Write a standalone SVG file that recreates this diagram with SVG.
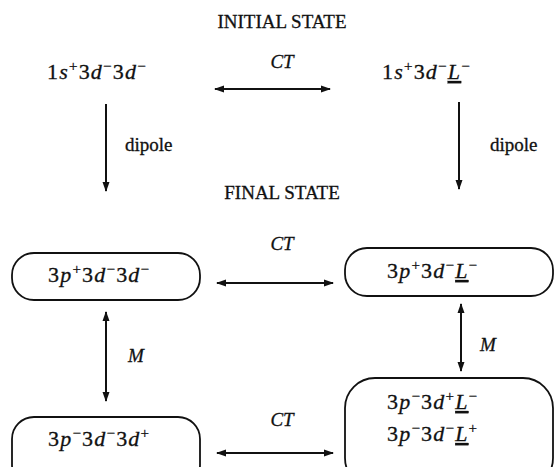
<svg xmlns="http://www.w3.org/2000/svg" width="554" height="467" viewBox="0 0 554 467">
<style>
text{font-family:"Liberation Serif","DejaVu Serif",serif;fill:#111;font-size:19px;stroke:#111;stroke-width:0.3}
.f{font-size:22px;letter-spacing:1.2px}
.i{font-style:italic}
.sup{font-size:15px}
.hd{text-anchor:middle}
.box{fill:none;stroke:#111;stroke-width:1.8}
.cn{stroke:#111;stroke-width:2;fill:none}
.u{text-decoration:underline}
</style>
<defs>
<marker id="ah" viewBox="0 0 10 8" refX="9" refY="4" markerWidth="11" markerHeight="8" orient="auto-start-reverse" markerUnits="userSpaceOnUse">
<path d="M0,0.5 L10,4 L0,7.5 z" fill="#111"/>
</marker>
</defs>
<text class="hd" x="282" y="28">INITIAL STATE</text>
<text class="hd" x="282" y="199">FINAL STATE</text>
<g id="n-init-left"><text class="f" x="47" y="79">1<tspan class="i">s</tspan><tspan class="sup" dy="-8">+</tspan><tspan dy="8">3</tspan><tspan class="i">d</tspan><tspan class="sup" dy="-8">−</tspan><tspan dy="8">3</tspan><tspan class="i">d</tspan><tspan class="sup" dy="-8">−</tspan></text></g>
<g id="n-init-right"><text class="f" x="382" y="79">1<tspan class="i">s</tspan><tspan class="sup" dy="-8">+</tspan><tspan dy="8">3</tspan><tspan class="i">d</tspan><tspan class="sup" dy="-8">−</tspan><tspan dy="8" class="i u">L</tspan><tspan class="sup" dy="-8">−</tspan></text></g>
<g id="n-final-1">
<rect class="box" x="12" y="253" width="188" height="47" rx="22" ry="22"/>
<text class="f" x="48" y="282">3<tspan class="i">p</tspan><tspan class="sup" dy="-8">+</tspan><tspan dy="8">3</tspan><tspan class="i">d</tspan><tspan class="sup" dy="-8">−</tspan><tspan dy="8">3</tspan><tspan class="i">d</tspan><tspan class="sup" dy="-8">−</tspan></text>
</g>
<g id="n-final-2">
<rect class="box" x="345" y="248" width="208" height="48" rx="22" ry="22"/>
<text class="f" x="387" y="278">3<tspan class="i">p</tspan><tspan class="sup" dy="-8">+</tspan><tspan dy="8">3</tspan><tspan class="i">d</tspan><tspan class="sup" dy="-8">−</tspan><tspan dy="8" class="i u">L</tspan><tspan class="sup" dy="-8">−</tspan></text>
</g>
<g id="n-final-3">
<rect class="box" x="12" y="417" width="188" height="70" rx="22" ry="22"/>
<text class="f" x="48" y="446">3<tspan class="i">p</tspan><tspan class="sup" dy="-8">−</tspan><tspan dy="8">3</tspan><tspan class="i">d</tspan><tspan class="sup" dy="-8">−</tspan><tspan dy="8">3</tspan><tspan class="i">d</tspan><tspan class="sup" dy="-8">+</tspan></text>
</g>
<g id="n-final-4">
<rect class="box" x="345" y="378" width="208" height="110" rx="30" ry="30"/>
<text class="f" x="387" y="409">3<tspan class="i">p</tspan><tspan class="sup" dy="-8">−</tspan><tspan dy="8">3</tspan><tspan class="i">d</tspan><tspan class="sup" dy="-8">+</tspan><tspan dy="8" class="i u">L</tspan><tspan class="sup" dy="-8">−</tspan></text>
<text class="f" x="387" y="441">3<tspan class="i">p</tspan><tspan class="sup" dy="-8">−</tspan><tspan dy="8">3</tspan><tspan class="i">d</tspan><tspan class="sup" dy="-8">−</tspan><tspan dy="8" class="i u">L</tspan><tspan class="sup" dy="-8">+</tspan></text>
</g>
<g id="connectors">
<line class="cn" x1="215" y1="89" x2="330" y2="89" marker-start="url(#ah)" marker-end="url(#ah)"/>
<text class="i hd" x="282" y="68">CT</text>
<line class="cn" x1="106" y1="104" x2="106" y2="191" marker-end="url(#ah)"/>
<text x="125" y="151">dipole</text>
<line class="cn" x1="459" y1="102" x2="459" y2="189" marker-end="url(#ah)"/>
<text x="490" y="151">dipole</text>
<line class="cn" x1="217" y1="283" x2="333" y2="283" marker-start="url(#ah)" marker-end="url(#ah)"/>
<text class="i hd" x="282" y="250">CT</text>
<line class="cn" x1="106" y1="312" x2="106" y2="401" marker-start="url(#ah)" marker-end="url(#ah)"/>
<text class="i" x="128" y="362">M</text>
<line class="cn" x1="461" y1="304" x2="461" y2="371" marker-start="url(#ah)" marker-end="url(#ah)"/>
<text class="i" x="480" y="351">M</text>
<line class="cn" x1="217" y1="453" x2="333" y2="453" marker-start="url(#ah)" marker-end="url(#ah)"/>
<text class="i hd" x="282" y="426">CT</text>
</g>
</svg>
